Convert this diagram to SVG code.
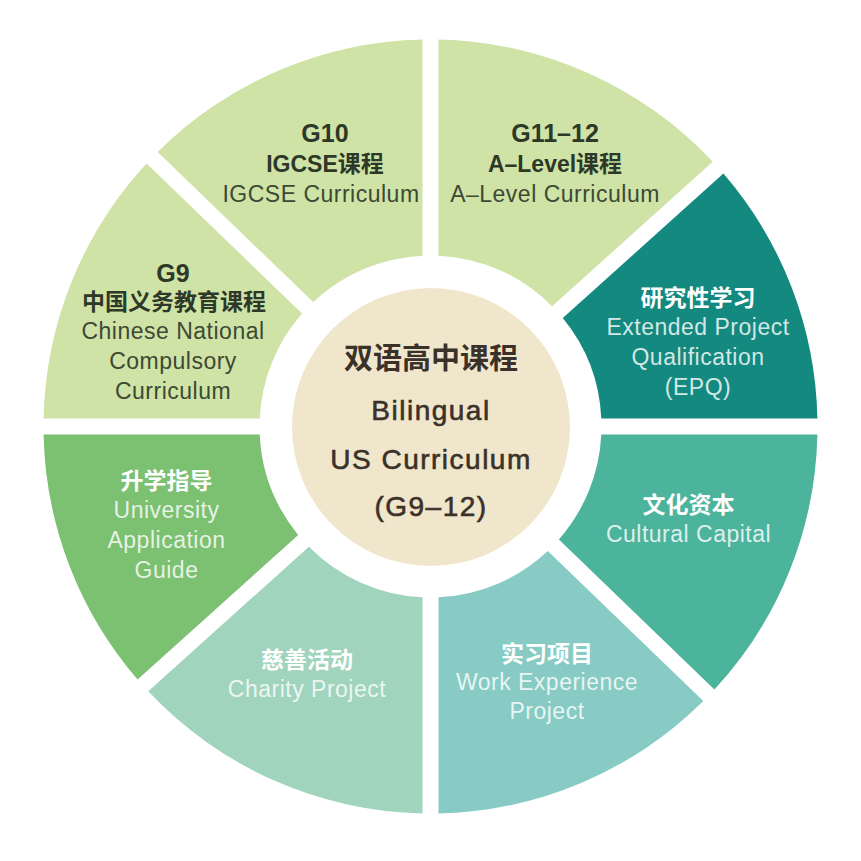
<svg xmlns="http://www.w3.org/2000/svg" width="861" height="861" viewBox="0 0 861 861">
<style>
  .lat { font-family: 'Liberation Sans', 'Noto Sans CJK SC', sans-serif; text-anchor: middle; }
  .ttl { font-size: 25px; font-weight: 700; }
  .cn  { font-family: 'Liberation Sans', 'Noto Sans CJK SC', sans-serif; font-size: 23px; font-weight: 700; text-anchor: middle; }
  .sub { font-size: 23px; font-weight: 400; letter-spacing: 0.5px; }
  .dk  { fill: #2d3828; }
  .dks { fill: #3c4934; }
  .wt  { fill: #ffffff; }
  .wts { fill: #ffffff; fill-opacity: 0.82; }
  .ctr { font-size: 28px; letter-spacing: 1.5px; fill: #3a3129; stroke: #3a3129; stroke-width: 0.6; }
  .ctrcn { font-size: 29px; font-weight: 700; fill: #3a3129; }
</style>
<rect width="861" height="861" fill="#ffffff"/>

<g id="epq">
  <path d="M 723.4,173.5 A 387 387 0 0 1 817.4,418.5 L 601.3,418.5 A 171 171 0 0 0 562.8,318.1 Z" fill="#14897f"/>
  <text class="cn wt" x="698" y="306">研究性学习</text>
  <text class="lat sub wts" x="698" y="335">Extended Project</text>
  <text class="lat sub wts" x="698" y="365">Qualification</text>
  <text class="lat sub wts" x="698" y="395">(EPQ)</text>
</g>

<g id="cultural-capital">
  <path d="M 817.4,434.5 A 387 387 0 0 1 714.4,689.5 L 558.9,539.4 A 171 171 0 0 0 601.3,434.5 Z" fill="#4cb39d"/>
  <text class="cn wt" x="688.5" y="513">文化资本</text>
  <text class="lat sub wts" x="688.5" y="542">Cultural Capital</text>
</g>

<g id="work-experience">
  <path d="M 703.3,701.0 A 387 387 0 0 1 438.5,813.4 L 438.5,597.3 A 171 171 0 0 0 547.8,550.9 Z" fill="#87cbc4"/>
  <text class="cn wt" x="547" y="662">实习项目</text>
  <text class="lat sub wts" x="547" y="690">Work Experience</text>
  <text class="lat sub wts" x="547" y="719">Project</text>
</g>

<g id="charity">
  <path d="M 422.5,813.4 A 387 387 0 0 1 148.3,691.3 L 308.9,546.7 A 171 171 0 0 0 422.5,597.3 Z" fill="#a0d4bd"/>
  <text class="cn wt" x="307" y="668">慈善活动</text>
  <text class="lat sub wts" x="307" y="697">Charity Project</text>
</g>

<g id="university-guide">
  <path d="M 137.6,679.5 A 387 387 0 0 1 43.6,434.5 L 259.7,434.5 A 171 171 0 0 0 298.2,534.9 Z" fill="#7cc072"/>
  <text class="cn wt" x="166.5" y="489">升学指导</text>
  <text class="lat sub wts" x="166.5" y="518">University</text>
  <text class="lat sub wts" x="166.5" y="548">Application</text>
  <text class="lat sub wts" x="166.5" y="578">Guide</text>
</g>

<g id="g9">
  <path d="M 43.6,418.5 A 387 387 0 0 1 146.6,163.5 L 302.1,313.6 A 171 171 0 0 0 259.7,418.5 Z" fill="#cfe3a6"/>
  <text class="lat ttl dk" x="173" y="282">G9</text>
  <text class="cn dk" x="174" y="310">中国义务教育课程</text>
  <text class="lat sub dks" x="173" y="339">Chinese National</text>
  <text class="lat sub dks" x="173" y="369">Compulsory</text>
  <text class="lat sub dks" x="173" y="399">Curriculum</text>
</g>

<g id="g10">
  <path d="M 157.7,152.0 A 387 387 0 0 1 422.5,39.6 L 422.5,255.7 A 171 171 0 0 0 313.2,302.1 Z" fill="#cfe3a6"/>
  <text class="lat ttl dk" x="325" y="142">G10</text>
  <text class="cn dk" x="325" y="172">IGCSE课程</text>
  <text class="lat sub dks" x="321" y="202">IGCSE Curriculum</text>
</g>

<g id="g11-12">
  <path d="M 438.5,39.6 A 387 387 0 0 1 712.7,161.7 L 552.1,306.3 A 171 171 0 0 0 438.5,255.7 Z" fill="#cfe3a6"/>
  <text class="lat ttl dk" x="555" y="142">G11–12</text>
  <text class="cn dk" x="555" y="172">A–Level课程</text>
  <text class="lat sub dks" x="555" y="202">A–Level Curriculum</text>
</g>

<g id="center">
  <circle cx="431" cy="427" r="139" fill="#f0e6cb"/>
  <text class="lat ctrcn" x="431" y="369">双语高中课程</text>
  <text class="lat ctr" x="431" y="420">Bilingual</text>
  <text class="lat ctr" x="431" y="469">US Curriculum</text>
  <text class="lat ctr" x="431" y="516">(G9–12)</text>
</g>
</svg>
